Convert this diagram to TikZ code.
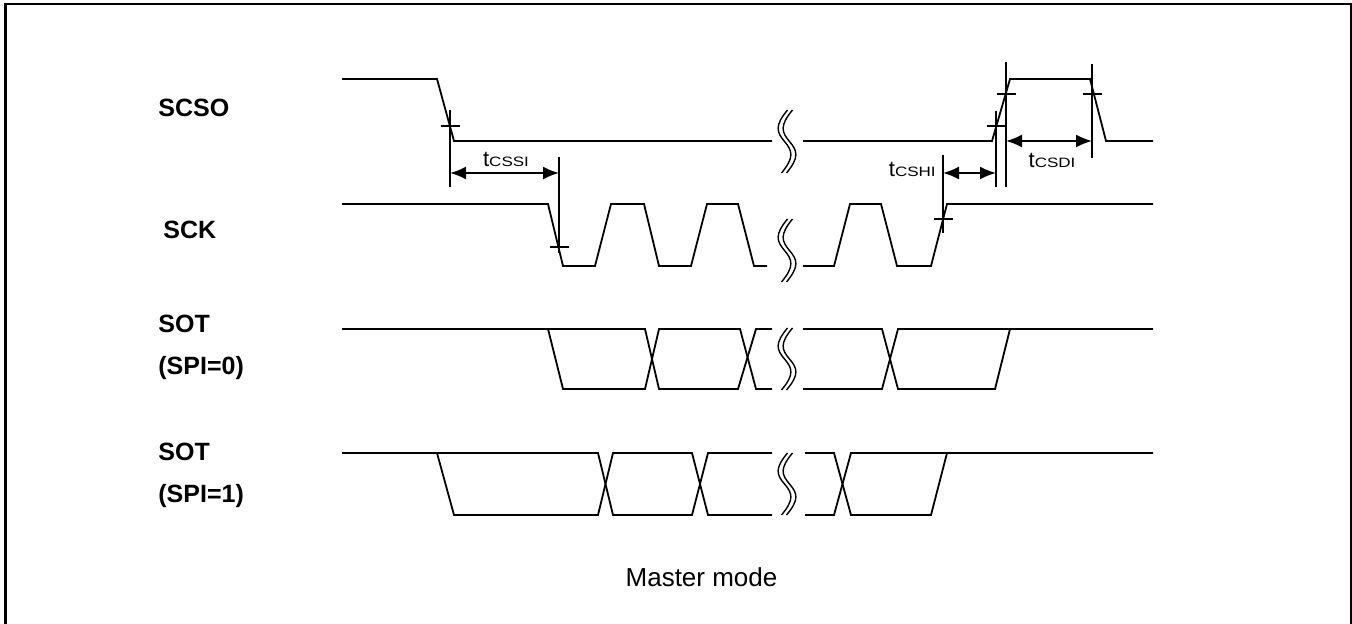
\documentclass[tikz,border=0pt]{standalone}
\usepackage{fontspec}
\usepackage{graphicx}
\setmainfont{Liberation Sans}
\usetikzlibrary{arrows.meta}
\tikzstyle{sig}=[line width=0.9pt, line join=miter]
\tikzstyle{tick}=[line width=0.7pt]
\tikzstyle{dim}=[line width=0.9pt, {Latex[length=8pt,width=6.5pt]}-{Latex[length=8pt,width=6.5pt]}]
\tikzstyle{sname}=[font=\fontsize{12.5}{14}\selectfont\bfseries, anchor=base west, inner sep=0pt]
\tikzstyle{annot}=[inner sep=0pt]
\newcommand{\tname}[1]{{\fontsize{11}{12}\selectfont t}\scalebox{1.25}[1]{\fontsize{6.8}{7}\selectfont #1}}
\newcommand{\edgemark}[4]
{
  \draw[tick] (#1-9.5,#2) -- (#1+9.5,#2);
  \draw[tick] (#1,#3) -- (#1,#4);
}
\newcommand{\wavebreak}[3]
{
  \foreach \dx in {-2.5,2.5}
    \draw[tick] ({#1+\dx+3},#2) .. controls ({#1+\dx-10},{#2+0.25*(#3-#2)}) and ({#1+\dx-8},{0.35*(#3-#2)+#2}) .. ({#1+\dx},{0.5*(#2+#3)}) .. controls ({#1+\dx+8},{0.65*(#3-#2)+#2}) and ({#1+\dx+10},{#3-0.25*(#3-#2)}) .. ({#1+\dx-3},#3);
}
\begin{document}
\begin{tikzpicture}[x=0.5pt,y=-0.5pt]
	\useasboundingbox (0,0) rectangle (1352,624);
	\draw[line width=1.3pt] (5.3,624) -- (5.3,4) -- (1350.8,4) -- (1350.8,624);

	% signal names
	\node[sname] (lscso) at (158,117) {SCSO};
	\node[sname] (lsck) at (163,239) {SCK};
	\node[sname] (lsot0) at (158,333) {SOT};
	\node[sname] (lspi0) at (158,375) {(SPI=0)};
	\node[sname] (lsot1) at (158,460) {SOT};
	\node[sname] (lspi1) at (158,502) {(SPI=1)};

	% SCSO
	\draw[sig] (342,79) -- (437,79) -- (454,141) -- (772,141);
	\draw[sig] (803,141) -- (992,141) -- (1010,79) -- (1090,79) -- (1106,141) -- (1153,141);
	% SCK
	\draw[sig] (342,204) -- (548,204) -- (563,266) -- (595,266) -- (611,204) -- (644,204) -- (659,266) -- (691,266) -- (707,204) -- (738,204) -- (754,266) -- (767,266);
	\draw[sig] (803,266) -- (834,266) -- (850,204) -- (881,204) -- (897,266) -- (931,266) -- (947,204) -- (1153,204);
	% SOT (SPI=0)
	\draw[sig] (342,329) -- (645,329) -- (659,389) -- (738,389) -- (756,329) -- (772,329);
	\draw[sig] (548,329) -- (563,389) -- (645,389) -- (659,329) -- (740,329) -- (756,389) -- (772,389);
	\draw[sig] (803,329) -- (882,329) -- (898,389) -- (995,389) -- (1010,329);
	\draw[sig] (803,389) -- (882,389) -- (898,329) -- (1153,329);
	% SOT (SPI=1)
	\draw[sig] (342,453) -- (598,453) -- (613,515) -- (692,515) -- (708,453) -- (772,453);
	\draw[sig] (437,453) -- (454,515) -- (598,515) -- (613,453) -- (692,453) -- (708,515) -- (772,515);
	\draw[sig] (805,453) -- (834,453) -- (851,515) -- (931,515) -- (947,453);
	\draw[sig] (805,515) -- (834,515) -- (851,453) -- (1153,453);

	\wavebreak{787}{110}{173}
	\wavebreak{787}{219}{282}
	\wavebreak{787}{328}{390}
	\wavebreak{787}{453}{515}

	\edgemark{450}{126}{110}{187}
	\edgemark{559}{247}{157}{253}
	\edgemark{943}{219}{155}{233}
	\edgemark{996}{126}{111}{187}
	\edgemark{1006}{94}{62}{187}
	\edgemark{1092}{94}{64}{158}

	\coordinate (cssiA) at (450,173);
	\coordinate (cssiB) at (559,173);
	\coordinate (cshiA) at (943,173);
	\coordinate (cshiB) at (996,173);
	\coordinate (csdiA) at (1006,141);
	\coordinate (csdiB) at (1092,141);
	\draw[dim] (cssiA) -- (cssiB);
	\draw[dim] (cshiA) -- (cshiB);
	\draw[dim] (csdiA) -- (csdiB);
	\node[annot, anchor=base] (tcssi) at (506,167) {\tname{CSSI}};
	\node[annot, anchor=base east] (tcshi) at (936,177) {\tname{CSHI}};
	\node[annot, anchor=base] (tcsdi) at (1052,168) {\tname{CSDI}};

	\node[annot, anchor=base, font=\fontsize{13}{15}\selectfont] (mode) at (701.5,586) {Master mode};
\end{tikzpicture}
\end{document}
